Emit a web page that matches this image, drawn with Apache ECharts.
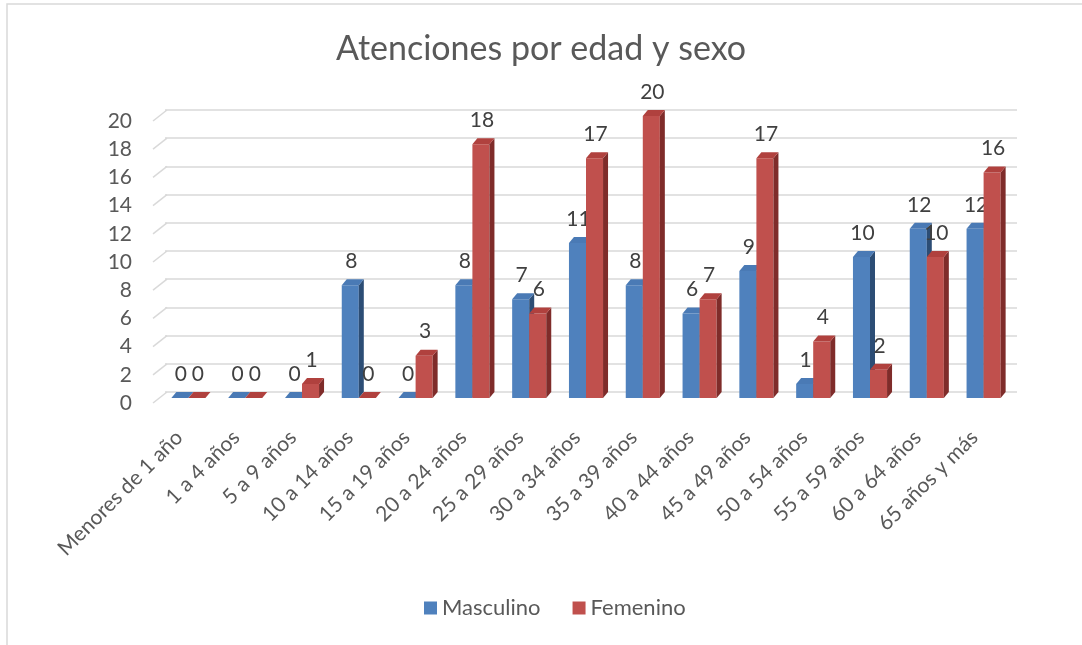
<!DOCTYPE html>
<html>
<head>
<meta charset="utf-8">
<script src="https://cdn.jsdelivr.net/npm/echarts@6/dist/echarts.min.js"></script>
<style>
  html, body { margin: 0; padding: 0; background: #fff; }
  #chart { width: 1082px; height: 645px; }
</style>
</head>
<body>
<div id="chart"></div>
<script>
// datos del grafico
const categorias = ['Menores de 1 año', '1 a 4 años', '5 a 9 años', '10 a 14 años', '15 a 19 años',
  '20 a 24 años', '25 a 29 años', '30 a 34 años', '35 a 39 años', '40 a 44 años',
  '45 a 49 años', '50 a 54 años', '55 a 59 años', '60 a 64 años', '65 años y más'];
const masculino = [0, 0, 0, 8, 0, 8, 7, 11, 8, 6, 9, 1, 10, 12, 12];
const femenino = [0, 0, 1, 0, 3, 18, 6, 17, 20, 7, 17, 4, 2, 10, 16];
const ticksY = [0, 2, 4, 6, 8, 10, 12, 14, 16, 18, 20];

const FONT = 'Lato';
const DX = 5, DY = 6; // profundidad del efecto 3D

// barra 3D estilo Excel: cara frontal, lateral y superior
function barra3D(idx, front, side, top) {
  return function (params, api) {
    const cat = api.value(0);
    const val = api.value(1);
    const base = api.coord([cat, 0]);
    const tope = api.coord([cat, val]);
    const band = api.size([1, 0])[0];
    const w = band * 0.3;
    const x0 = base[0] - DX - w + idx * w;
    const x1 = x0 + w;
    const yT = tope[1] + DY;
    const yB = base[1] + DY;
    return {
      type: 'group',
      children: [
        { type: 'rect', shape: { x: x0, y: yT, width: w, height: yB - yT }, style: { fill: front } },
        { type: 'polygon', shape: { points: [[x1, yT], [x1 + DX, yT - DY], [x1 + DX, yB - DY], [x1, yB]] }, style: { fill: side } },
        { type: 'polygon', shape: { points: [[x0, yT], [x1, yT], [x1 + DX, yT - DY], [x0 + DX, yT - DY]] }, style: { fill: top } },
        { type: 'text', x: x0 + w / 2 + 1, y: yT - 24,
          style: { text: String(val), fill: '#404040', font: '21px ' + FONT, align: 'center', verticalAlign: 'middle' } }
      ]
    };
  };
}

// lineas diagonales del piso / pared
function diagonales(params, api) {
  const v = api.value(0);
  const p = api.coord([0, v]);
  const band = api.size([1, 0])[0];
  const xl = p[0] - band / 2 + 2;
  return {
    type: 'line',
    shape: { x1: xl - 14, y1: p[1] + 11, x2: xl, y2: p[1] },
    style: { stroke: '#d9d9d9', lineWidth: 1.5 }
  };
}

const chart = echarts.init(document.getElementById('chart'));
chart.setOption({
  backgroundColor: '#fff',
  animation: false,
  textStyle: { fontFamily: FONT },
  graphic: [
    { type: 'rect', shape: { x: 7, y: 4, width: 1200, height: 700 }, style: { fill: 'none', stroke: '#d9d9d9', lineWidth: 1.5 }, silent: true }
  ],
  title: {
    text: 'Atenciones por edad y sexo',
    left: 'center',
    top: 27,
    textStyle: { fontFamily: FONT, fontSize: 34, fontWeight: 'normal', color: '#595959' }
  },
  legend: {
    bottom: 21,
    left: 419,
    itemWidth: 13,
    itemHeight: 13,
    itemGap: 32,
    icon: 'rect',
    textStyle: { fontFamily: FONT, fontSize: 22, color: '#595959' },
    data: ['Masculino', 'Femenino']
  },
  grid: { left: 165, width: 852, top: 110, height: 282 },
  xAxis: {
    type: 'category',
    data: categorias,
    axisLine: { show: false },
    axisTick: { show: false },
    axisLabel: {
      rotate: 45, interval: 0, margin: 28, fontSize: 21, color: '#595959', fontFamily: FONT,
      formatter: v => v + '{s|}',
      rich: { s: { width: 20 } }
    }
  },
  yAxis: {
    type: 'value',
    min: 0,
    max: 20,
    interval: 2,
    axisLine: { show: false },
    axisTick: { show: false },
    splitLine: { lineStyle: { color: '#d9d9d9', width: 1.5 } },
    axisLabel: { margin: 33, fontSize: 21, lineHeight: 22, color: '#595959', fontFamily: FONT, verticalAlign: 'top' }
  },
  series: [
    {
      name: 'ejes', type: 'custom', silent: true,
      data: ticksY.map(v => [v]),
      encode: { y: 0 },
      renderItem: diagonales
    },
    {
      name: 'Masculino', type: 'custom',
      itemStyle: { color: '#4f81bd' },
      data: masculino.map((v, i) => [i, v]),
      encode: { x: 0, y: 1 },
      renderItem: barra3D(0, '#4f81bd', '#2c4d75', '#4a7ab5')
    },
    {
      name: 'Femenino', type: 'custom',
      itemStyle: { color: '#c0504d' },
      data: femenino.map((v, i) => [i, v]),
      encode: { x: 0, y: 1 },
      renderItem: barra3D(1, '#c0504d', '#7f2c2a', '#b0413e')
    }
  ]
});
</script>
</body>
</html>
